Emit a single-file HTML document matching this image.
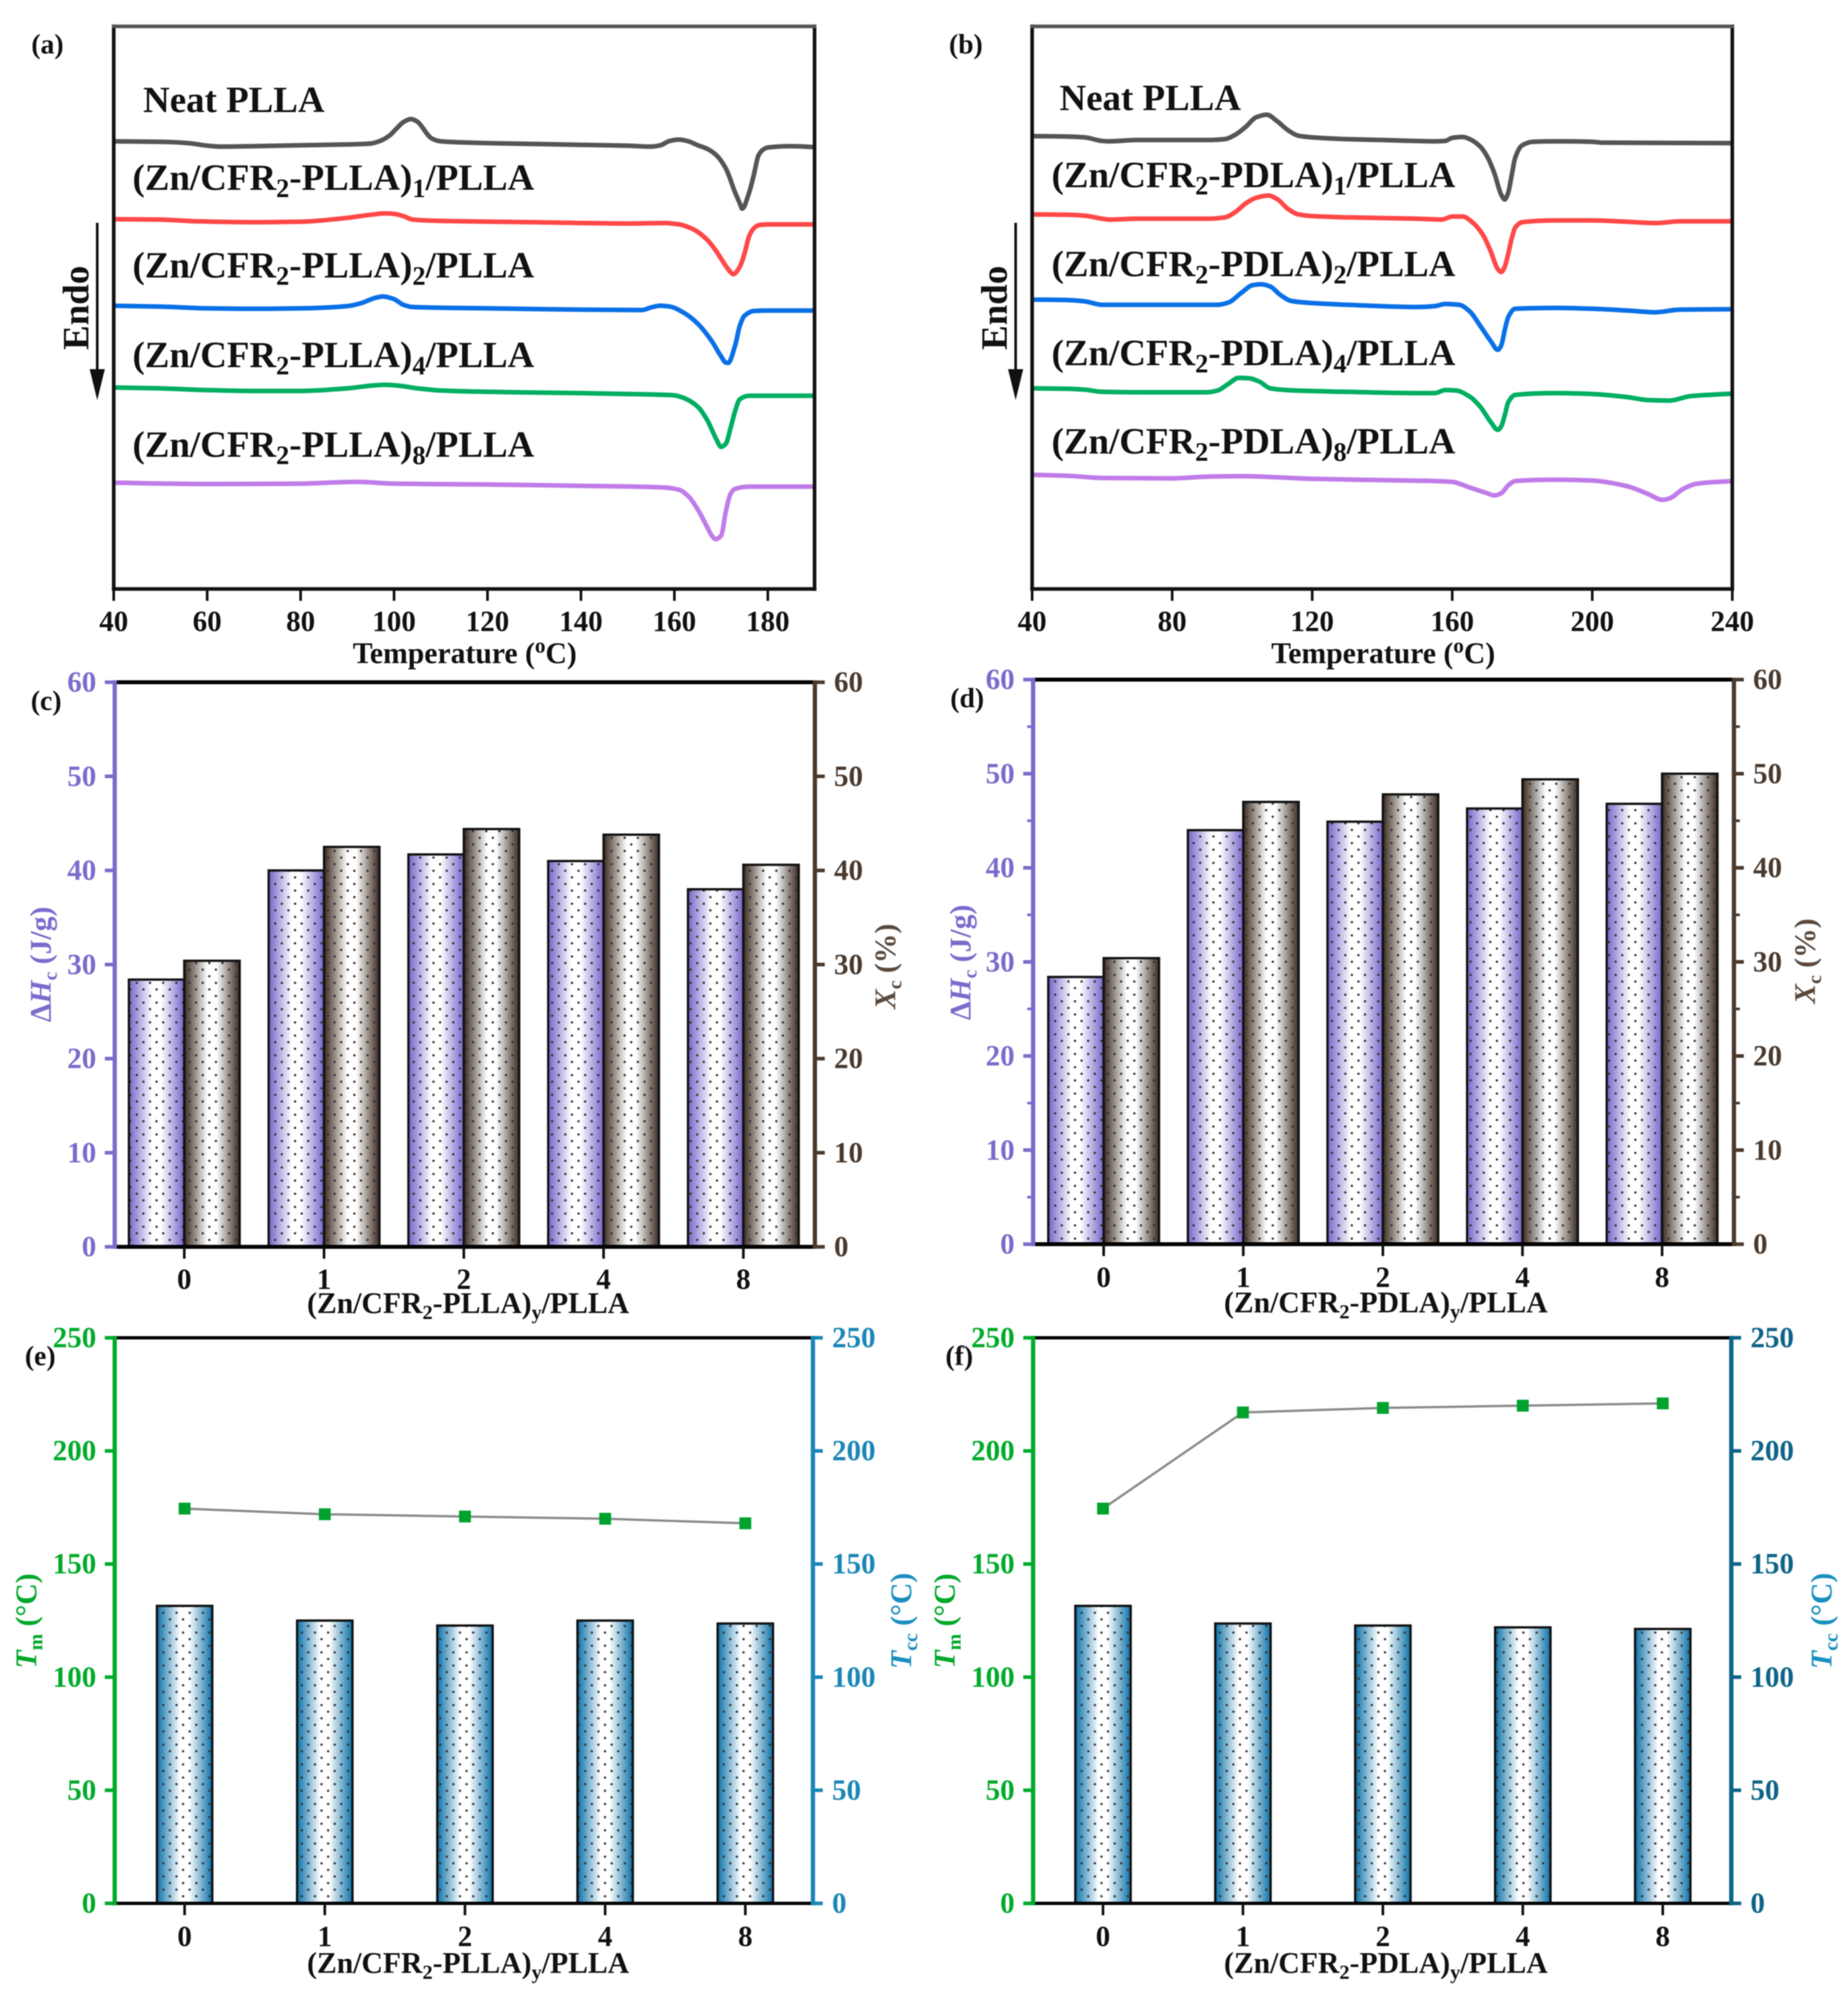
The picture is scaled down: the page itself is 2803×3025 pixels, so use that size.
<!DOCTYPE html>
<html lang="en">
<head>
<meta charset="utf-8">
<title>DSC curves and crystallization data for Zn/CFR2 composites</title>
<style>
  html, body { margin: 0; padding: 0; background: #fff; }
  #figure { position: absolute; left: 0; top: 0; width: 2803px; height: 3025px; display: block; filter: blur(0.8px); }
  text { font-family: "Liberation Serif", "DejaVu Serif", serif; font-weight: bold; }
  .lab { font-size: 56px; fill: #111; }
  .ttl { font-size: 45px; fill: #111; }
  .pl { font-size: 42px; fill: #111; text-anchor: middle; }
  .mid { text-anchor: middle; }
</style>
</head>
<body>
<svg id="figure" xmlns="http://www.w3.org/2000/svg" width="2803" height="3025" viewBox="0 0 2803 3025">
  <defs>
    <linearGradient id="grad-purple"><stop offset="0" stop-color="#7463c8"/><stop offset="0.42" stop-color="#fff"/><stop offset="0.58" stop-color="#fff"/><stop offset="1" stop-color="#7463c8"/></linearGradient>
    <linearGradient id="grad-brown"><stop offset="0" stop-color="#3a2a20"/><stop offset="0.42" stop-color="#fff"/><stop offset="0.58" stop-color="#fff"/><stop offset="1" stop-color="#3a2a20"/></linearGradient>
    <linearGradient id="grad-blue"><stop offset="0" stop-color="#0a70a8"/><stop offset="0.42" stop-color="#fff"/><stop offset="0.58" stop-color="#fff"/><stop offset="1" stop-color="#0a70a8"/></linearGradient>
    <pattern id="dots-c" patternUnits="userSpaceOnUse" x="2.5" y="6" width="20" height="20"><circle cx="5" cy="5" r="1.8" fill="#333"/><circle cx="15" cy="15" r="1.8" fill="#333"/></pattern>
    <pattern id="dots-d" patternUnits="userSpaceOnUse" x="-4.5" y="4" width="20" height="20"><circle cx="5" cy="5" r="1.8" fill="#333"/><circle cx="15" cy="15" r="1.8" fill="#333"/></pattern>
    <pattern id="dots-e" patternUnits="userSpaceOnUse" x="2.7" y="1.7" width="20" height="20"><circle cx="5" cy="5" r="1.8" fill="#333"/><circle cx="15" cy="15" r="1.8" fill="#333"/></pattern>
    <pattern id="dots-f" patternUnits="userSpaceOnUse" x="-4.3" y="1.7" width="20" height="20"><circle cx="5" cy="5" r="1.8" fill="#333"/><circle cx="15" cy="15" r="1.8" fill="#333"/></pattern>
  </defs>

  <g id="marks"></g>

  <!-- panel letters -->
  <text class="pl" x="72" y="81">(a)</text>
  <text class="pl" x="1465" y="81">(b)</text>
  <text class="pl" x="70" y="1077">(c)</text>
  <text class="pl" x="1467" y="1073">(d)</text>
  <text class="pl" x="61" y="2071">(e)</text>
  <text class="pl" x="1455" y="2071">(f)</text>

  <!-- panel a curve labels -->
  <text class="lab" x="217" y="170">Neat PLLA</text>
  <text class="lab" x="201" y="288">(Zn/CFR<tspan font-size="40" dy="11">2</tspan><tspan dy="-11">-PLLA)</tspan><tspan font-size="40" dy="11">1</tspan><tspan dy="-11">/PLLA</tspan></text>
  <text class="lab" x="201" y="421">(Zn/CFR<tspan font-size="40" dy="11">2</tspan><tspan dy="-11">-PLLA)</tspan><tspan font-size="40" dy="11">2</tspan><tspan dy="-11">/PLLA</tspan></text>
  <text class="lab" x="201" y="557">(Zn/CFR<tspan font-size="40" dy="11">2</tspan><tspan dy="-11">-PLLA)</tspan><tspan font-size="40" dy="11">4</tspan><tspan dy="-11">/PLLA</tspan></text>
  <text class="lab" x="201" y="693">(Zn/CFR<tspan font-size="40" dy="11">2</tspan><tspan dy="-11">-PLLA)</tspan><tspan font-size="40" dy="11">8</tspan><tspan dy="-11">/PLLA</tspan></text>

  <!-- panel b curve labels -->
  <text class="lab" x="1607" y="167">Neat PLLA</text>
  <text class="lab" x="1595" y="284">(Zn/CFR<tspan font-size="40" dy="11">2</tspan><tspan dy="-11">-PDLA)</tspan><tspan font-size="40" dy="11">1</tspan><tspan dy="-11">/PLLA</tspan></text>
  <text class="lab" x="1595" y="419">(Zn/CFR<tspan font-size="40" dy="11">2</tspan><tspan dy="-11">-PDLA)</tspan><tspan font-size="40" dy="11">2</tspan><tspan dy="-11">/PLLA</tspan></text>
  <text class="lab" x="1595" y="554">(Zn/CFR<tspan font-size="40" dy="11">2</tspan><tspan dy="-11">-PDLA)</tspan><tspan font-size="40" dy="11">4</tspan><tspan dy="-11">/PLLA</tspan></text>
  <text class="lab" x="1595" y="688">(Zn/CFR<tspan font-size="40" dy="11">2</tspan><tspan dy="-11">-PDLA)</tspan><tspan font-size="40" dy="11">8</tspan><tspan dy="-11">/PLLA</tspan></text>

  <!-- endo arrows -->
  <text class="lab mid" transform="translate(134,467) rotate(-90)">Endo</text>
  <g>
    <line x1="147.5" y1="338" x2="147.5" y2="570" stroke="#111" stroke-width="4"/>
    <polygon points="136,560 159,560 147.5,607" fill="#111"/>
  </g>
  <text class="lab mid" transform="translate(1527,467) rotate(-90)">Endo</text>
  <g>
    <line x1="1540.5" y1="338" x2="1540.5" y2="570" stroke="#111" stroke-width="4"/>
    <polygon points="1529,560 1552,560 1540.5,607" fill="#111"/>
  </g>

  <!-- x-axis titles -->
  <text class="ttl mid" x="705" y="1006">Temperature (<tspan font-size="32" dy="-16">o</tspan><tspan dy="16">C)</tspan></text>
  <text class="ttl mid" x="2098" y="1006">Temperature (<tspan font-size="32" dy="-16">o</tspan><tspan dy="16">C)</tspan></text>
  <text class="ttl mid" x="710" y="1992">(Zn/CFR<tspan font-size="31" dy="9">2</tspan><tspan dy="-9">-PLLA)</tspan><tspan font-size="31" dy="9">y</tspan><tspan dy="-9">/PLLA</tspan></text>
  <text class="ttl mid" x="2102" y="1991">(Zn/CFR<tspan font-size="31" dy="9">2</tspan><tspan dy="-9">-PDLA)</tspan><tspan font-size="31" dy="9">y</tspan><tspan dy="-9">/PLLA</tspan></text>
  <text class="ttl mid" x="710" y="2993">(Zn/CFR<tspan font-size="31" dy="9">2</tspan><tspan dy="-9">-PLLA)</tspan><tspan font-size="31" dy="9">y</tspan><tspan dy="-9">/PLLA</tspan></text>
  <text class="ttl mid" x="2102" y="2993">(Zn/CFR<tspan font-size="31" dy="9">2</tspan><tspan dy="-9">-PDLA)</tspan><tspan font-size="31" dy="9">y</tspan><tspan dy="-9">/PLLA</tspan></text>

  <!-- y-axis titles -->
  <text class="ttl mid" style="fill:#7a6ccc" transform="translate(77,1463) rotate(-90)">Δ<tspan font-style="italic">H</tspan><tspan font-size="30" dy="9">c</tspan><tspan dy="-9"> (J/g)</tspan></text>
  <text class="ttl mid" style="fill:#5a4a3e" transform="translate(1358,1466) rotate(-90)"><tspan font-style="italic">X</tspan><tspan font-size="30" dy="9">c</tspan><tspan dy="-9"> (%)</tspan></text>
  <text class="ttl mid" style="fill:#7a6ccc" transform="translate(1472,1460) rotate(-90)">Δ<tspan font-style="italic">H</tspan><tspan font-size="30" dy="9">c</tspan><tspan dy="-9"> (J/g)</tspan></text>
  <text class="ttl mid" style="fill:#5a4a3e" transform="translate(2753,1458) rotate(-90)"><tspan font-style="italic">X</tspan><tspan font-size="30" dy="9">c</tspan><tspan dy="-9"> (%)</tspan></text>
  <text class="ttl mid" style="fill:#00a82a" transform="translate(55,2459) rotate(-90)"><tspan font-style="italic">T</tspan><tspan font-size="30" dy="9">m</tspan><tspan dy="-9"> (°C)</tspan></text>
  <text class="ttl mid" style="fill:#1a8fc0" transform="translate(1382,2459) rotate(-90)"><tspan font-style="italic">T</tspan><tspan font-size="30" dy="9">cc</tspan><tspan dy="-9"> (°C)</tspan></text>
  <text class="ttl mid" style="fill:#00a82a" transform="translate(1448,2459) rotate(-90)"><tspan font-style="italic">T</tspan><tspan font-size="30" dy="9">m</tspan><tspan dy="-9"> (°C)</tspan></text>
  <text class="ttl mid" style="fill:#1a8fc0" transform="translate(2778,2459) rotate(-90)"><tspan font-style="italic">T</tspan><tspan font-size="30" dy="9">cc</tspan><tspan dy="-9"> (°C)</tspan></text>
</svg>

<script>
// ---------- Panel (a): DSC curves. Signal is read downward (endo down), arbitrary units.
const tempA0 = [40,50,56,60,63,70,80,90,95,97,99,100.5,102,103.6,105,106,107,108,110,120,130,140,150,155,157,159,161,163,165,167,169,171,173,174,174.5,176,177,178,179,180,185,190];
const sigA0  = [323,324,327,333,335,334,332,330,328,322,310,294,279,272,278,290,305,316,323,327,329,331,333,335,332,322,319,323,332,340,355,385,440,465,477,440,400,355,342,337,334,336];
const tempA1 = [40,50,58,70,80,90,95,98,100,102,104,110,130,150,158,161,164,167,169,171,172,172.6,174,175,176,177,178,180,190];
const sigA1  = [501,502,506,508,507,498,491,488,489,494,502,505,508,511,510,513,524,548,575,608,622,627,610,580,540,522,515,513,513];
const tempA2 = [40,50,60,70,80,90,93,96,97.6,100,102,104,120,140,153,155,157,159,162,165,168,170,171,171.5,173,174,175,177,180,190];
const sigA2  = [699,701,705,706,705,700,693,681,678,684,697,702,705,708,709,703,699,701,715,740,780,815,829,830,790,745,722,711,710,710];
const tempA3 = [40,50,60,70,80,90,95,98,101,105,110,120,140,155,160,162,165,167,169,170,171,172,173,174,176,190];
const sigA3  = [886,888,892,894,894,888,882,880,882,888,893,896,899,902,904,910,930,960,1005,1022,1015,980,940,913,905,905];
const tempA4 = [40,60,80,92,100,120,140,158,161,163,165,167,168,168.8,170,171,172,173,176,190];
const sigA4  = [1104,1107,1106,1102,1106,1108,1111,1115,1120,1135,1165,1205,1225,1233,1225,1170,1130,1118,1113,1113];

// ---------- Panel (b): DSC curves
const tempB0 = [40,50,55,60,62,70,80,90,95,98,101,104,107,110,113,116,120,130,140,155,158,160,163,165,168,170,172,174,175,176,177,178,180,183,190,200,203,240];
const sigB0  = [311,312,314,322,323,320,320,320,318,308,290,268,262,277,297,310,314,318,320,323,322,315,313,318,335,358,395,445,456,440,400,360,332,324,323,324,326,327];
const tempB1 = [40,50,55,60,62,70,90,95,98,101,104,107.5,110,113,116,120,130,150,157,160,163,166,169,171,173,174,175,176,177,178,180,190,200,210,218,225,240];
const sigB1  = [490,491,493,500,502,500,500,497,485,465,452,447,455,477,490,494,497,500,502,495,495,510,540,575,615,622,610,580,545,520,508,504,504,507,510,506,506];
const tempB2 = [40,50,55,60,70,93,96,100,103,105.5,108,111,114,120,130,150,155,158,162,165,168,171,173,174,175,176,178,190,200,210,218,225,240];
const sigB2  = [685,686,689,697,697,697,692,668,652,650,655,675,688,693,697,702,700,695,697,712,745,780,800,790,755,725,706,704,706,710,714,708,707];
const tempB3 = [40,50,55,60,70,90,93,96,99,102,105,108,115,130,150,155,158,161,165,168,171,173,174,175,176,178,190,200,210,216,222,228,240];
const sigB3  = [888,889,891,896,897,897,893,878,864,865,873,888,893,896,899,899,892,893,907,930,965,983,975,950,920,903,899,901,908,915,916,906,900];
const tempB4 = [40,50,60,80,90,100,120,140,155,160,165,170,172,174,176,178,190,200,210,216,220,222,226,230,240];
const sigB4  = [1086,1088,1093,1094,1090,1089,1095,1098,1100,1102,1115,1128,1133,1128,1110,1100,1097,1099,1112,1130,1143,1140,1118,1106,1100];

const xTicksA = [40,60,80,100,120,140,160,180];
const xTicksB = [40,80,120,160,200,240];

// ---------- Panels (c)-(f)
const categories = ['0','1','2','4','8'];
const yTicksEnthalpy = [0,10,20,30,40,50,60];
const minorTicksEnthalpy = [5,15,25,35,45,55];
const yTicksTemp = [0,50,100,150,200,250];

const dHcC = [28.4,40,41.7,41,38];
const xcC  = [30.4,42.5,44.4,43.8,40.6];
const dHcD = [28.4,44,44.9,46.3,46.8];
const xcD  = [30.4,47,47.8,49.4,50];
const tmE  = [174.5,172,171,170,168];
const tccE = [131.5,125,122.8,125,123.7];
const tmF  = [174.5,217,219,220,221];
const tccF = [131.5,123.7,122.8,122,121.3];

const SVGNS = 'http://www.w3.org/2000/svg';
const marks = document.getElementById('marks');

function make(tag, attrs) {
  const n = document.createElementNS(SVGNS, tag);
  for (const k in attrs) n.setAttribute(k, attrs[k]);
  marks.appendChild(n);
  return n;
}

function linear(d0, d1, r0, r1) {
  return v => r0 + (v - d0) / (d1 - d0) * (r1 - r0);
}

function monoPath(pts) {
  const n = pts.length, dx = [], m = [], t = [];
  for (let i = 0; i < n - 1; i++) {
    dx[i] = pts[i + 1][0] - pts[i][0];
    m[i] = (pts[i + 1][1] - pts[i][1]) / dx[i];
  }
  t[0] = m[0];
  t[n - 1] = m[n - 2];
  for (let i = 1; i < n - 1; i++) {
    if (m[i - 1] * m[i] <= 0) { t[i] = 0; continue; }
    const w1 = 2 * dx[i] + dx[i - 1], w2 = dx[i] + 2 * dx[i - 1];
    t[i] = (w1 + w2) / (w1 / m[i - 1] + w2 / m[i]);
  }
  let d = 'M' + pts[0][0].toFixed(1) + ' ' + pts[0][1].toFixed(1);
  for (let i = 0; i < n - 1; i++) {
    const h = dx[i] / 3;
    d += 'C' + (pts[i][0] + h).toFixed(1) + ' ' + (pts[i][1] + t[i] * h).toFixed(1) + ' ' +
         (pts[i + 1][0] - h).toFixed(1) + ' ' + (pts[i + 1][1] - t[i + 1] * h).toFixed(1) + ' ' +
         pts[i + 1][0].toFixed(1) + ' ' + pts[i + 1][1].toFixed(1);
  }
  return d;
}

function drawDscCurve(temps, sig, xs, ys, color) {
  const pts = temps.map((t, i) => [xs(t), ys(sig[i])]);
  const el = make('path', { d: monoPath(pts), fill: 'none', stroke: color, 'stroke-width': 7, 'stroke-linejoin': 'round' });
  
  
}

function drawDscFrame(L, R, T, B, ticks, xs) {
  const frame = [[L, T, L, B, '#111'], [R, T, R, B, '#111'], [L, T, R, T, '#555'], [L, B, R, B, '#111']];
  frame.forEach(f => {
    const el = make('line', { x1: f[0], y1: f[1], x2: f[2], y2: f[3], stroke: f[4], 'stroke-width': 5.5, 'stroke-linecap': 'square' });
    
    
  });
  ticks.forEach(t => {
    const tk = make('line', { x1: xs(t), y1: B, x2: xs(t), y2: B + 18, stroke: '#111', 'stroke-width': 4 });
    
    
    const lb = make('text', { x: xs(t), y: 957, 'text-anchor': 'middle', 'font-size': 44, fill: '#111' });
    
    
    lb.textContent = String(t);
  });
}

function drawBarFrame(cfg, xs, ys, yTicks, minor) {
  const L = cfg.L, R = cfg.R, T = cfg.T, B = cfg.B;
  [T, B].forEach(y => {
    const el = make('line', { x1: L, y1: y, x2: R, y2: y, stroke: '#000', 'stroke-width': cfg.hw });
    
    
  });
  const lAxis = make('line', { x1: L, y1: T - 3, x2: L, y2: B + 3, stroke: cfg.lc, 'stroke-width': cfg.vw });
  
  
  const rAxis = make('line', { x1: R, y1: T - 3, x2: R, y2: B + 3, stroke: cfg.rc, 'stroke-width': cfg.vw });
  
  
  yTicks.forEach(v => {
    const y = ys(v);
    const tl = make('line', { x1: L - 15, y1: y, x2: L, y2: y, stroke: cfg.lc, 'stroke-width': 5.5 });
    
    
    const tr = make('line', { x1: R, y1: y, x2: R + 15, y2: y, stroke: cfg.rc, 'stroke-width': 5.5 });
    
    
    const ll = make('text', { x: L - 28, y: y + 14, 'text-anchor': 'end', 'font-size': 44, fill: cfg.lc });
    
    
    ll.textContent = String(v);
    const lr = make('text', { x: R + 29, y: y + 14, 'text-anchor': 'start', 'font-size': 44, fill: cfg.rt });
    
    
    lr.textContent = String(v);
  });
  minor.forEach(v => {
    const y = ys(v);
    const ml = make('line', { x1: L - 9, y1: y, x2: L, y2: y, stroke: cfg.lc, 'stroke-width': 4 });
    
    
    const mr = make('line', { x1: R, y1: y, x2: R + 9, y2: y, stroke: cfg.rc, 'stroke-width': 4 });
    
    
  });
  categories.forEach((c, i) => {
    const x = xs(i);
    const tk = make('line', { x1: x, y1: B, x2: x, y2: B + 18, stroke: '#111', 'stroke-width': 4 });
    
    
    const lb = make('text', { x: x, y: cfg.catY, 'text-anchor': 'middle', 'font-size': 44, fill: '#111' });
    
    
    lb.textContent = c;
  });
}

function drawBar(x0, x1, y0, yTop, grad, dots) {
  const g = make('rect', { x: x0, y: yTop, width: x1 - x0, height: y0 - yTop, fill: 'url(#' + grad + ')' });
  
  
  const p = make('rect', { x: x0, y: yTop, width: x1 - x0, height: y0 - yTop, fill: 'url(#' + dots + ')', stroke: '#111', 'stroke-width': 3.5 });
  
  
}

function drawPairedPanel(cfg, series1, series2, minor) {
  const xs = linear(0, 4, cfg.c0, cfg.c4);
  const ys = linear(0, 60, cfg.B, cfg.T);
  series1.forEach((v, i) => drawBar(xs(i) - 84, xs(i), cfg.B, ys(v), 'grad-purple', cfg.dots));
  series2.forEach((v, i) => drawBar(xs(i), xs(i) + 84, cfg.B, ys(v), 'grad-brown', cfg.dots));
  drawBarFrame(cfg, xs, ys, yTicksEnthalpy, minor);
}

function drawTempPanel(cfg, tm, tcc) {
  const xs = linear(0, 4, cfg.c0, cfg.c4);
  const ys = linear(0, 250, cfg.B, cfg.T);
  tcc.forEach((v, i) => drawBar(xs(i) - 42, xs(i) + 42, cfg.B, ys(v), 'grad-blue', cfg.dots));
  const line = make('polyline', { points: tm.map((v, i) => xs(i) + ',' + ys(v)).join(' '), fill: 'none', stroke: '#8a8a8a', 'stroke-width': 3.5 });
  
  
  tm.forEach((v, i) => {
    const m = make('rect', { x: xs(i) - 9, y: ys(v) - 9, width: 18, height: 18, fill: '#00a22e' });
    
    
  });
  drawBarFrame(cfg, xs, ys, yTicksTemp, []);
}

// DSC panels: signal runs downward from the top of the frame
const colGrey = '#555555', colRed = '#ff4848', colBlue = '#0a70e6', colGreen = '#00ae62', colViolet = '#c07ce8';
(function () {
  const xa = linear(40, 190, 172.5, 1235.5);
  const ya = linear(60, 1347, 40, 893.5);
  drawDscCurve(tempA0, sigA0, xa, ya, colGrey);
  drawDscCurve(tempA1, sigA1, xa, ya, colRed);
  drawDscCurve(tempA2, sigA2, xa, ya, colBlue);
  drawDscCurve(tempA3, sigA3, xa, ya, colGreen);
  drawDscCurve(tempA4, sigA4, xa, ya, colViolet);
  drawDscFrame(172.5, 1235.5, 40, 893.5, xTicksA, xa);

  const xb = linear(40, 240, 1565.5, 2627.5);
  drawDscCurve(tempB0, sigB0, xb, ya, colGrey);
  drawDscCurve(tempB1, sigB1, xb, ya, colRed);
  drawDscCurve(tempB2, sigB2, xb, ya, colBlue);
  drawDscCurve(tempB3, sigB3, xb, ya, colGreen);
  drawDscCurve(tempB4, sigB4, xb, ya, colViolet);
  drawDscFrame(1565.5, 2627.5, 40, 893.5, xTicksB, xb);

  drawPairedPanel({ L: 174, R: 1236, T: 1035, B: 1891.5, c0: 279.5, c4: 1127.5, hw: 6, vw: 6.5, lc: '#7a6ccc', rc: '#4a3a2e', rt: '#4a3a2e', catY: 1955, dots: 'dots-c' }, dHcC, xcC, []);
  drawPairedPanel({ L: 1567, R: 2630, T: 1031, B: 1887.5, c0: 1674, c4: 2521, hw: 6, vw: 6.5, lc: '#7a6ccc', rc: '#4a3a2e', rt: '#4a3a2e', catY: 1952, dots: 'dots-d' }, dHcD, xcD, minorTicksEnthalpy);
  drawTempPanel({ L: 174, R: 1233, T: 2029.5, B: 2887.5, c0: 280, c4: 1130.5, hw: 5, vw: 6.5, lc: '#00ab2a', rc: '#1a86b8', rt: '#1a86b8', catY: 2952, dots: 'dots-e' }, tmE, tccE);
  drawTempPanel({ L: 1567, R: 2626, T: 2029.5, B: 2887.5, c0: 1673, c4: 2522, hw: 5, vw: 6.5, lc: '#00ab2a', rc: '#0d6488', rt: '#0d6488', catY: 2952, dots: 'dots-f' }, tmF, tccF);
})();
</script>
</body>
</html>
